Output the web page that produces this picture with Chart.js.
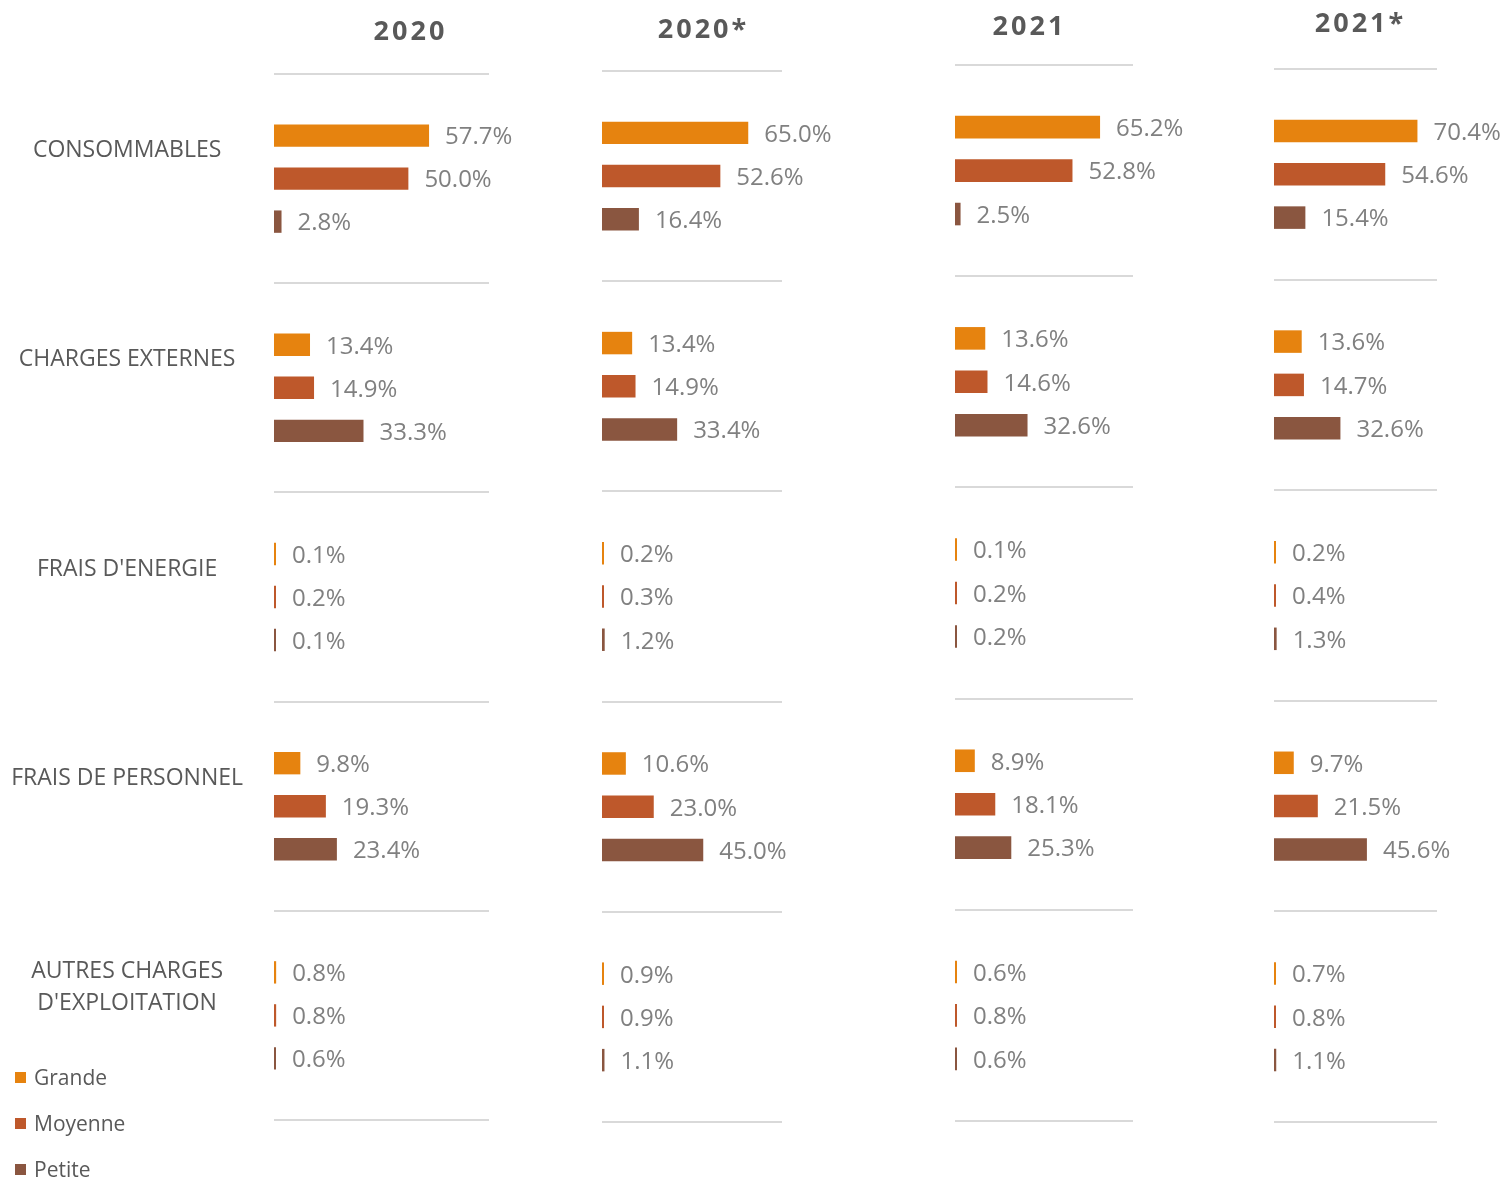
<!DOCTYPE html>
<html>
<head>
<meta charset="utf-8">
<script src="https://cdn.jsdelivr.net/npm/chart.js@4/dist/chart.umd.min.js"></script>
<style>
  html, body { margin: 0; padding: 0; background: #ffffff; }
  body { width: 1506px; height: 1179px; position: relative; overflow: hidden; font-family: "Open Sans", sans-serif; }
  canvas { position: absolute; top: 0; }
  .ptitle { position: absolute; transform: translate(-50%, -50%); font: bold 27px "Open Sans", sans-serif; letter-spacing: 3px; padding-left: 3px; color: #595959; white-space: nowrap; }
  .legend { position: absolute; left: 15px; font: 21px "Open Sans", sans-serif; color: #595959; display: flex; align-items: center; transform: translateY(-50%); }
  .legend span.sw { width: 11px; height: 11px; display: inline-block; margin-right: 8px; }
</style>
</head>
<body>
<canvas id="p1" width="560" height="1179" style="left:0px"></canvas>
<canvas id="p2" width="380" height="1179" style="left:560px"></canvas>
<canvas id="p3" width="330" height="1179" style="left:940px"></canvas>
<canvas id="p4" width="236" height="1179" style="left:1270px"></canvas>

<div class="ptitle" id="t1" style="left:409px; top:29px"></div>
<div class="ptitle" id="t2" style="left:702px; top:27px"></div>
<div class="ptitle" id="t3" style="left:1028px; top:24px"></div>
<div class="ptitle" id="t4" style="left:1359px; top:21px"></div>

<div class="legend" id="lg0" style="top:1077px"><span class="sw"></span><span class="tx"></span></div>
<div class="legend" id="lg1" style="top:1123px"><span class="sw"></span><span class="tx"></span></div>
<div class="legend" id="lg2" style="top:1169px"><span class="sw"></span><span class="tx"></span></div>

<script>
// ---- Data ----
const categories = ['CONSOMMABLES', 'CHARGES EXTERNES', "FRAIS D'ENERGIE", 'FRAIS DE PERSONNEL', ['AUTRES CHARGES', "D'EXPLOITATION"]];
const panelTitles = ['2020', '2020*', '2021', '2021*'];
const seriesNames = ['Grande', 'Moyenne', 'Petite'];
const seriesColors = ['#E6830F', '#BE582B', '#8A5640'];

const grande2020  = [57.7, 13.4, 0.1, 9.8, 0.8];
const moyenne2020 = [50.0, 14.9, 0.2, 19.3, 0.8];
const petite2020  = [2.8, 33.3, 0.1, 23.4, 0.6];

const grande2020s  = [65.0, 13.4, 0.2, 10.6, 0.9];
const moyenne2020s = [52.6, 14.9, 0.3, 23.0, 0.9];
const petite2020s  = [16.4, 33.4, 1.2, 45.0, 1.1];

const grande2021  = [65.2, 13.6, 0.1, 8.9, 0.6];
const moyenne2021 = [52.8, 14.6, 0.2, 18.1, 0.8];
const petite2021  = [2.5, 32.6, 0.2, 25.3, 0.6];

const grande2021s  = [70.4, 13.6, 0.2, 9.7, 0.7];
const moyenne2021s = [54.6, 14.7, 0.4, 21.5, 0.8];
const petite2021s  = [15.4, 32.6, 1.3, 45.6, 1.1];

const valueMax = 80;

// ---- Plugins ----
const valueLabels = {
  id: 'valueLabels',
  afterDatasetsDraw(chart) {
    const ctx = chart.ctx;
    ctx.save();
    ctx.font = '24px "Open Sans", sans-serif';
    ctx.fillStyle = '#808080';
    ctx.textBaseline = 'middle';
    ctx.textAlign = 'left';
    chart.data.datasets.forEach((ds, i) => {
      chart.getDatasetMeta(i).data.forEach((bar, j) => {
        ctx.fillText(ds.data[j].toFixed(1) + '%', bar.x + 16, bar.y + 2);
      });
    });
    ctx.restore();
  }
};

function makePanel(id, canvasLeft, canvasWidth, area, values, showCats) {
  const axisW = showCats ? area.left - canvasLeft : 0;
  const padLeft = area.left - canvasLeft - axisW;
  new Chart(document.getElementById(id), {
    type: 'bar',
    data: {
      labels: categories,
      datasets: seriesNames.map((n, i) => ({
        label: n,
        data: values[i],
        backgroundColor: seriesColors[i],
        borderWidth: 0,
        minBarLength: 2,
        categoryPercentage: 0.617,
        barPercentage: 0.52
      }))
    },
    options: {
      indexAxis: 'y',
      responsive: false,
      animation: false,
      layout: { padding: { left: padLeft, right: canvasLeft + canvasWidth - area.right, top: area.top, bottom: 1179 - area.bottom } },
      plugins: { legend: { display: false }, tooltip: { enabled: false }, title: { display: false } },
      scales: {
        x: { display: false, min: 0, max: valueMax },
        y: {
          display: true,
          offset: true,
          border: { display: false },
          grid: { offset: true, color: '#d9d9d9', lineWidth: 2, drawTicks: false },
          ticks: {
            display: showCats,
            autoSkip: false,
            crossAlign: 'center',
            padding: 31,
            labelOffset: -28,
            color: '#595959',
            font: { family: '"Open Sans", sans-serif', size: 23, lineHeight: 1.4 }
          },
          afterFit(scale) { scale.width = axisW; }
        }
      }
    },
    plugins: [valueLabels]
  });
}

makePanel('p1', 0, 560, { left: 274, right: 489, top: 74, bottom: 1120 }, [grande2020, moyenne2020, petite2020], true);
makePanel('p2', 560, 380, { left: 602, right: 782, top: 71, bottom: 1122 }, [grande2020s, moyenne2020s, petite2020s], false);
makePanel('p3', 940, 330, { left: 955, right: 1133, top: 65, bottom: 1121 }, [grande2021, moyenne2021, petite2021], false);
makePanel('p4', 1270, 236, { left: 1274, right: 1437, top: 69, bottom: 1122 }, [grande2021s, moyenne2021s, petite2021s], false);

// titles & legend text
panelTitles.forEach((t, i) => { document.getElementById('t' + (i + 1)).textContent = t; });
seriesNames.forEach((n, i) => {
  const el = document.getElementById('lg' + i);
  el.querySelector('.sw').style.background = seriesColors[i];
  el.querySelector('.tx').textContent = n;
});
</script>
</body>
</html>
